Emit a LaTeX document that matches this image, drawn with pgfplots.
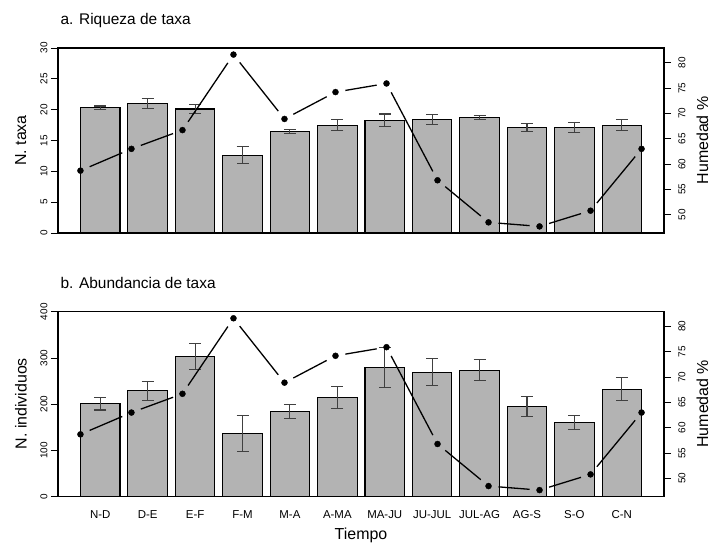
\documentclass[border=0pt]{standalone}
\usepackage{fontspec}
\setmainfont{Liberation Sans}
\usepackage{pgfplots}
\usepackage{pgfplotstable}
\pgfplotsset{compat=1.18}
\usetikzlibrary{decorations.pathreplacing,calc}

\definecolor{barfill}{RGB}{179,179,179}
\definecolor{errcol}{RGB}{64,64,64}

% riqueza: mean and half-width of the error bar
\pgfplotstableread{
x y e
1 20.3 0.3
2 21.0 0.75
3 20.1 0.7
4 12.6 1.4
5 16.5 0.3
6 17.5 0.95
7 18.3 1.0
8 18.4 0.85
9 18.7 0.35
10 17.1 0.6
11 17.1 0.8
12 17.5 0.95
}\riqueza

\pgfplotstableread{
x y e
1 201.4 14
2 228.7 21
3 303.2 27.6
4 136.2 38.7
5 183.5 15
6 215.1 23.6
7 278.9 43.4
8 269.5 28.6
9 273.8 23.3
10 195.7 21.8
11 159.9 14.7
12 232.3 25
}\abundancia

\pgfplotstableread{
x h
1 58.7
2 63.0
3 66.7
4 81.6
5 68.9
6 74.2
7 75.9
8 56.8
9 48.5
10 47.7
11 50.8
12 63.0
}\humedad

\pgfplotsset{
  panel/.style={scale only axis, width=606bp, height=185bp, anchor=south west,
    /pgf/number format/assume math mode=true,
    tick align=outside, major tick length=7bp,
    tick style={black, line width=0.8bp},
    ticklabel style={font=\fontsize{10}{12}\selectfont},
    axis line style={line width=1.2bp}},
  bars/.style={panel, xmin=0.108, xmax=12.89, ymin=0, ybar, bar width=0.8333, bar shift=0,
    ytick pos=left, yticklabel pos=left,
    yticklabel style={rotate=90, anchor=south}},
  hum/.style={panel, xmin=0.56, xmax=12.44, ymin=46.4, ymax=82.9, hide x axis,
    ytick={50,55,...,80}, ytick pos=right, yticklabel pos=right,
    yticklabel shift=4bp,
    yticklabel style={rotate=90, anchor=north}},
  barplot/.style={fill=barfill, draw=black, line width=1.1bp,
    error bars/.cd, y dir=both, y explicit,
    error bar style={errcol, line width=1.1bp},
    error mark options={errcol, line width=1.1bp, mark size=6bp, rotate=90}},
  % type "b" line: each segment stops short of the points
  gapline/.style={draw=none, postaction={decorate},
    decoration={show path construction,
      lineto code={\draw[black, line width=1.3bp]
        ($(\tikzinputsegmentfirst)!10bp!(\tikzinputsegmentlast)$) --
        ($(\tikzinputsegmentlast)!10bp!(\tikzinputsegmentfirst)$);}}},
}

\newcommand{\humline}{%
  \addplot[gapline] table[x=x, y=h] {\humedad};
  \addplot[only marks, mark=*, mark size=3bp, black] table[x=x, y=h] {\humedad};
}

\begin{document}
\begin{tikzpicture}
\useasboundingbox (0,0) rectangle (710bp,543bp);

% a. riqueza
\begin{axis}[bars, at={(58bp,310bp)}, ymax=30, ytick={0,5,...,30}, xtick=\empty]
  \addplot[barplot] table[x=x, y=y, y error=e] {\riqueza};
\end{axis}
\begin{axis}[hum, at={(58bp,310bp)}]
  \humline
\end{axis}

% b. abundancia
\begin{axis}[bars, at={(58bp,46.3bp)}, ymax=400, ytick={0,100,...,400},
    xtick={1,...,12}, xtick style={draw=none},
    xticklabels={N-D,D-E,E-F,F-M,M-A,A-MA,MA-JU,JU-JUL,JUL-AG,AG-S,S-O,C-N},
    xticklabel shift=3bp,
    xticklabel style={font=\fontsize{11.5}{13}\selectfont}]
  \addplot[barplot] table[x=x, y=y, y error=e] {\abundancia};
\end{axis}
\begin{axis}[hum, at={(58bp,46.3bp)}]
  \humline
\end{axis}

\node[anchor=base west, font=\fontsize{15.5}{18}\selectfont] at (57bp,518bp) {a. Riqueza de taxa};
\node[anchor=base west, font=\fontsize{15.5}{18}\selectfont] at (57bp,254.7bp) {b. Abundancia de taxa};
\node[rotate=90, anchor=base, font=\fontsize{16}{19}\selectfont] at (26bp,402.5bp) {N. taxa};
\node[rotate=90, anchor=base, font=\fontsize{16}{19}\selectfont] at (26.5bp,139.3bp) {N. individuos};
\node[rotate=90, anchor=base, font=\fontsize{16}{19}\selectfont] at (708bp,402.5bp) {Humedad \%};
\node[rotate=90, anchor=base, font=\fontsize{16}{19}\selectfont] at (708bp,139.3bp) {Humedad \%};
\node[anchor=base, font=\fontsize{16}{19}\selectfont] at (361bp,3.5bp) {Tiempo};
\end{tikzpicture}
\end{document}
